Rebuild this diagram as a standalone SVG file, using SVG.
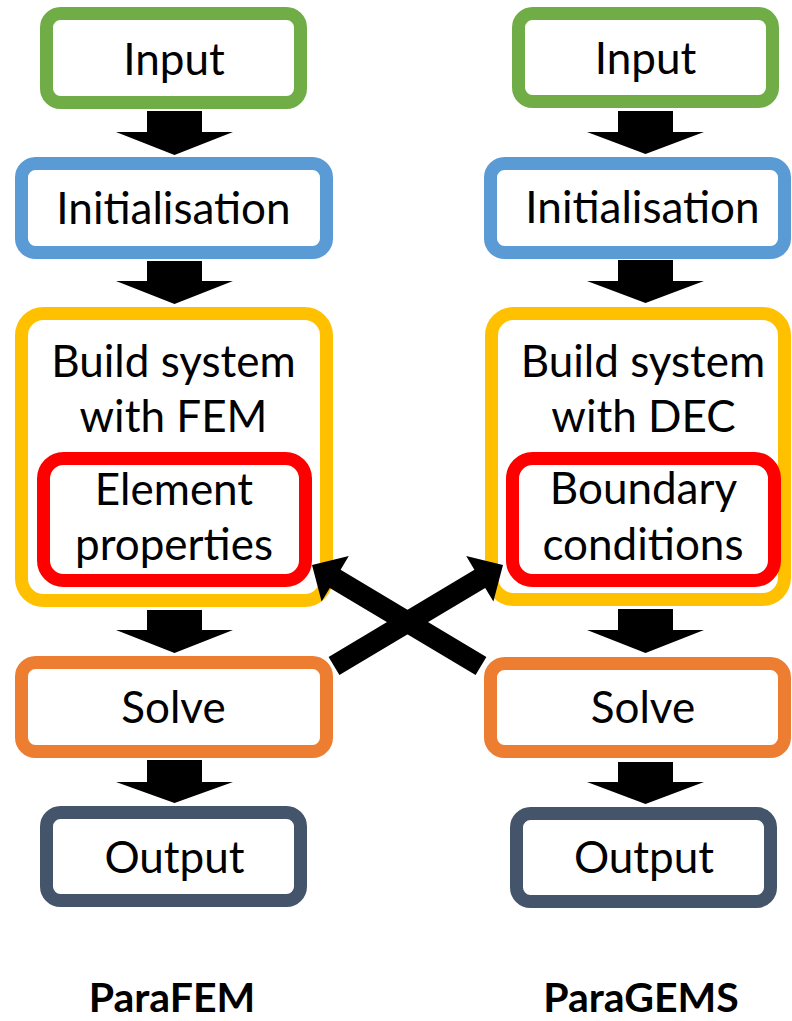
<svg xmlns="http://www.w3.org/2000/svg" width="792" height="1021" viewBox="0 0 792 1021">
<style>
.box{fill:#fff;stroke-width:13}
.g{stroke:#70AD47}.b{stroke:#5B9BD5}.y{stroke:#FFC000}.r{stroke:#FF0000}.o{stroke:#ED7D31}.s{stroke:#44546A}
.t{font-family:Lato,"Liberation Sans",sans-serif;font-size:44px;fill:#000;text-anchor:middle}
.h{font-family:Lato,"Liberation Sans",sans-serif;font-size:41px;font-weight:bold;fill:#000;text-anchor:middle}
.arr{fill:#000}
</style>
<rect width="792" height="1021" fill="#fff"/>
<g id="fem-input"><rect class="box g" x="46.5" y="13.5" width="254" height="89" rx="14"/><text class="t" x="174" y="75">Input</text></g>
<g id="fem-init"><rect class="box b" x="21.5" y="163.5" width="305" height="89" rx="14"/><text class="t" x="173.5" y="224">Initialisation</text></g>
<g id="fem-build"><rect class="box y" x="21.5" y="313.5" width="305" height="287" rx="22"/><text class="t" x="173.5" y="377">Build system</text><text class="t" x="173.5" y="432">with FEM</text></g>
<g id="fem-element"><rect class="box r" x="43.5" y="458.5" width="262" height="122" rx="20"/><text class="t" x="174" y="505">Element</text><text class="t" x="174" y="560">properties</text></g>
<g id="fem-solve"><rect class="box o" x="21.5" y="662.5" width="305" height="89" rx="14"/><text class="t" x="173.5" y="723">Solve</text></g>
<g id="fem-output"><rect class="box s" x="46.5" y="812.5" width="254" height="88" rx="14"/><text class="t" x="174.5" y="873">Output</text></g>
<g id="fem-label"><text class="h" x="172" y="1012">ParaFEM</text></g>

<g id="gems-input"><rect class="box g" x="518.5" y="13.5" width="254" height="88" rx="14"/><text class="t" x="645.5" y="74">Input</text></g>
<g id="gems-init"><rect class="box b" x="490.5" y="163.5" width="294" height="89" rx="14"/><text class="t" x="642.5" y="223">Initialisation</text></g>
<g id="gems-build"><rect class="box y" x="491.5" y="313.5" width="293" height="286" rx="22"/><text class="t" x="643" y="377">Build system</text><text class="t" x="643.5" y="432">with DEC</text></g>
<g id="gems-boundary"><rect class="box r" x="512.5" y="458.5" width="262" height="122" rx="20"/><text class="t" x="643.5" y="504">Boundary</text><text class="t" x="643" y="560">conditions</text></g>
<g id="gems-solve"><rect class="box o" x="490.5" y="663.5" width="294" height="88" rx="14"/><text class="t" x="643" y="723">Solve</text></g>
<g id="gems-output"><rect class="box s" x="516.5" y="813.5" width="254" height="88" rx="14"/><text class="t" x="644" y="873">Output</text></g>
<g id="gems-label"><text class="h" x="641" y="1012">ParaGEMS</text></g>

<g id="connectors" class="arr">
<polygon points="147,111 202,111 202,132 233,132 174.5,155 116,132 147,132"/>
<polygon points="147,261 202,261 202,281 233,281 174.5,304 116,281 147,281"/>
<polygon points="147,610 202,610 202,630 233,630 174.5,653 116,630 147,630"/>
<polygon points="147,760 202,760 202,782 233,782 174.5,803 116,782 147,782"/>
<polygon points="618,111 673,111 673,132 704,132 645.5,154 587,132 618,132"/>
<polygon points="618,260 673,260 673,281 704,281 645.5,303 587,281 618,281"/>
<polygon points="618,609 673,609 673,630 704,630 645.5,653 587,630 618,630"/>
<polygon points="618,762 673,762 673,782 704,782 645.5,804 587,782 618,782"/>
<polygon points="312,565 348.8,556.1 340.6,569.8 486.4,657.1 475.6,675.1 329.8,587.9 321.6,601.6"/>
<polygon points="503,565 466.2,556.1 474.4,569.8 328.6,657.1 339.4,675.1 485.2,587.9 493.4,601.6"/>
</g>
</svg>
